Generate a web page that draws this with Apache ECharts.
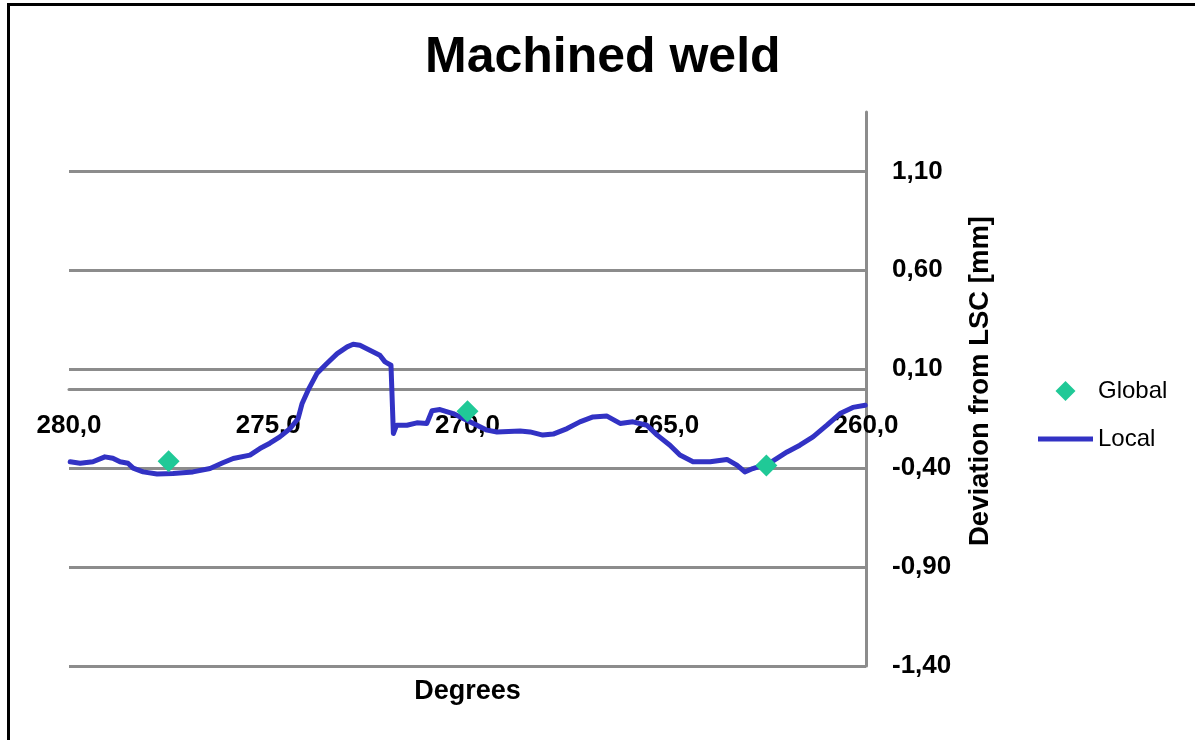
<!DOCTYPE html>
<html>
<head>
<meta charset="utf-8">
<script src="https://cdn.jsdelivr.net/npm/echarts@6/dist/echarts.min.js"></script>
<style>
  html, body { margin: 0; padding: 0; background: #fff; overflow: hidden; }
  #chart { width: 1195px; height: 740px; }
  #frame { position: absolute; left: 7px; top: 3px; width: 1300px; height: 900px;
           border-left: 3px solid #000; border-top: 3px solid #000; pointer-events: none; }
</style>
</head>
<body>
<div id="chart"></div>
<div id="frame"></div>
<script>
// Local deviation profile: degrees and deviation [mm]
const localDegrees = [279.97, 279.72, 279.40, 279.10, 278.90, 278.72, 278.52, 278.39, 278.14, 277.79,
  277.39, 276.89, 276.46, 276.14, 275.88, 275.46, 275.21, 274.96, 274.71, 274.45,
  274.25, 274.15, 274.00, 273.78, 273.53, 273.27, 273.02, 272.87, 272.70, 272.45,
  272.20, 272.07, 271.92, 271.86, 271.78, 271.52, 271.27, 271.02, 270.89, 270.69,
  270.36, 269.94, 269.51, 269.26, 268.68, 268.43, 268.11, 267.85, 267.50, 267.18,
  266.85, 266.50, 266.17, 265.85, 265.50, 265.24, 264.92, 264.67, 264.34, 263.91,
  263.49, 263.24, 263.04, 262.84, 262.41, 261.98, 261.66, 261.33, 260.98, 260.65,
  260.33, 260.02];
const localValues = [-0.368, -0.375, -0.368, -0.343, -0.350, -0.368, -0.375, -0.400, -0.419, -0.430,
  -0.427, -0.419, -0.402, -0.373, -0.351, -0.334, -0.301, -0.274, -0.242, -0.200,
  -0.149, -0.073, -0.006, 0.078, 0.129, 0.179, 0.213, 0.226, 0.221, 0.196,
  0.171, 0.137, 0.120, -0.225, -0.183, -0.183, -0.171, -0.174, -0.110, -0.104,
  -0.124, -0.166, -0.208, -0.217, -0.212, -0.217, -0.233, -0.228, -0.200, -0.166,
  -0.141, -0.137, -0.174, -0.166, -0.183, -0.233, -0.284, -0.334, -0.368, -0.368,
  -0.356, -0.385, -0.419, -0.402, -0.373, -0.318, -0.284, -0.242, -0.183, -0.124,
  -0.093, -0.082];
// Global points
const globalDegrees = [277.5, 270.0, 262.5];
const globalValues = [-0.365, -0.112, -0.387];
// Axis ticks
const xTicks = { min: 260, max: 280, interval: 5 };
const yTicks = { min: -1.4, max: 1.4, interval: 0.5 };

const FONT = '"Liberation Sans", Arial, sans-serif';
const GRID = { left: 69, right: 329, top: 112, bottom: 74 };
const CH = 740;
// place the x axis (line and labels) where y = 0, computed from the y scale
const plotH = CH - GRID.top - GRID.bottom;
const xAxisOffset = -plotH * (0 - yTicks.min) / (yTicks.max - yTicks.min);

const chart = echarts.init(document.getElementById('chart'), null, { renderer: 'canvas' });

chart.setOption({
  animation: false,
  backgroundColor: '#ffffff',
  title: {
    text: 'Machined weld',
    left: 420,
    top: 28,
    textStyle: { fontFamily: FONT, fontSize: 50, fontWeight: 'bold', color: '#000' }
  },
  legend: {
    orient: 'vertical',
    left: 1033,
    top: 374,
    itemWidth: 55,
    itemHeight: 20,
    itemGap: 24,
    symbolKeepAspect: true,
    textStyle: { fontFamily: FONT, fontSize: 24, color: '#000' },
    data: [
      { name: 'Global', icon: 'path://M0,-1 L1,0 L0,1 L-1,0 Z' },
      { name: 'Local', icon: 'path://M0,0 L55,0 L55,5 L0,5 Z' }
    ]
  },
  grid: Object.assign({ containLabel: false, outerBoundsMode: 'none' }, GRID),
  xAxis: {
    type: 'value',
    inverse: true,
    min: xTicks.min,
    max: xTicks.max,
    interval: xTicks.interval,
    offset: xAxisOffset,
    name: 'Degrees',
    nameLocation: 'middle',
    nameGap: 289,
    nameTextStyle: { fontFamily: FONT, fontSize: 27, fontWeight: 'bold', color: '#000' },
    axisLine: { onZero: false, lineStyle: { color: '#8c8c8c', width: 3 } },
    axisTick: { show: false },
    splitLine: { show: false },
    axisLabel: {
      margin: 24,
      fontFamily: FONT, fontSize: 26, fontWeight: 'bold', color: '#000',
      formatter: v => v.toFixed(1).replace('.', ',')
    }
  },
  yAxis: {
    type: 'value',
    position: 'right',
    min: yTicks.min,
    max: yTicks.max,
    interval: yTicks.interval,
    name: 'Deviation from LSC [mm]',
    nameLocation: 'middle',
    nameRotate: 90,
    nameGap: 100,
    nameTextStyle: { fontFamily: FONT, fontSize: 27.5, fontWeight: 'bold', color: '#000', padding: [0, 0, 0, 16] },
    axisLine: { show: true, lineStyle: { color: '#8c8c8c', width: 3 } },
    axisTick: { show: false },
    splitLine: { show: true, showMaxLine: false, lineStyle: { color: '#8c8c8c', width: 3 } },
    axisLabel: {
      margin: 26,
      showMaxLabel: false,
      fontFamily: FONT, fontSize: 26, fontWeight: 'bold', color: '#000',
      formatter: v => v.toFixed(2).replace('.', ',')
    }
  },
  series: [
    {
      name: 'Local',
      type: 'line',
      data: localDegrees.map((d, i) => [d, localValues[i]]),
      symbol: 'none',
      smooth: false,
      lineStyle: { color: '#3232c4', width: 5, join: 'round', cap: 'round' },
      itemStyle: { color: '#3232c4' },
      z: 2
    },
    {
      name: 'Global',
      type: 'scatter',
      data: globalDegrees.map((d, i) => [d, globalValues[i]]),
      symbol: 'diamond',
      symbolSize: 22,
      itemStyle: { color: '#20c997', opacity: 1 },
      z: 3
    }
  ]
});
</script>
</body>
</html>
